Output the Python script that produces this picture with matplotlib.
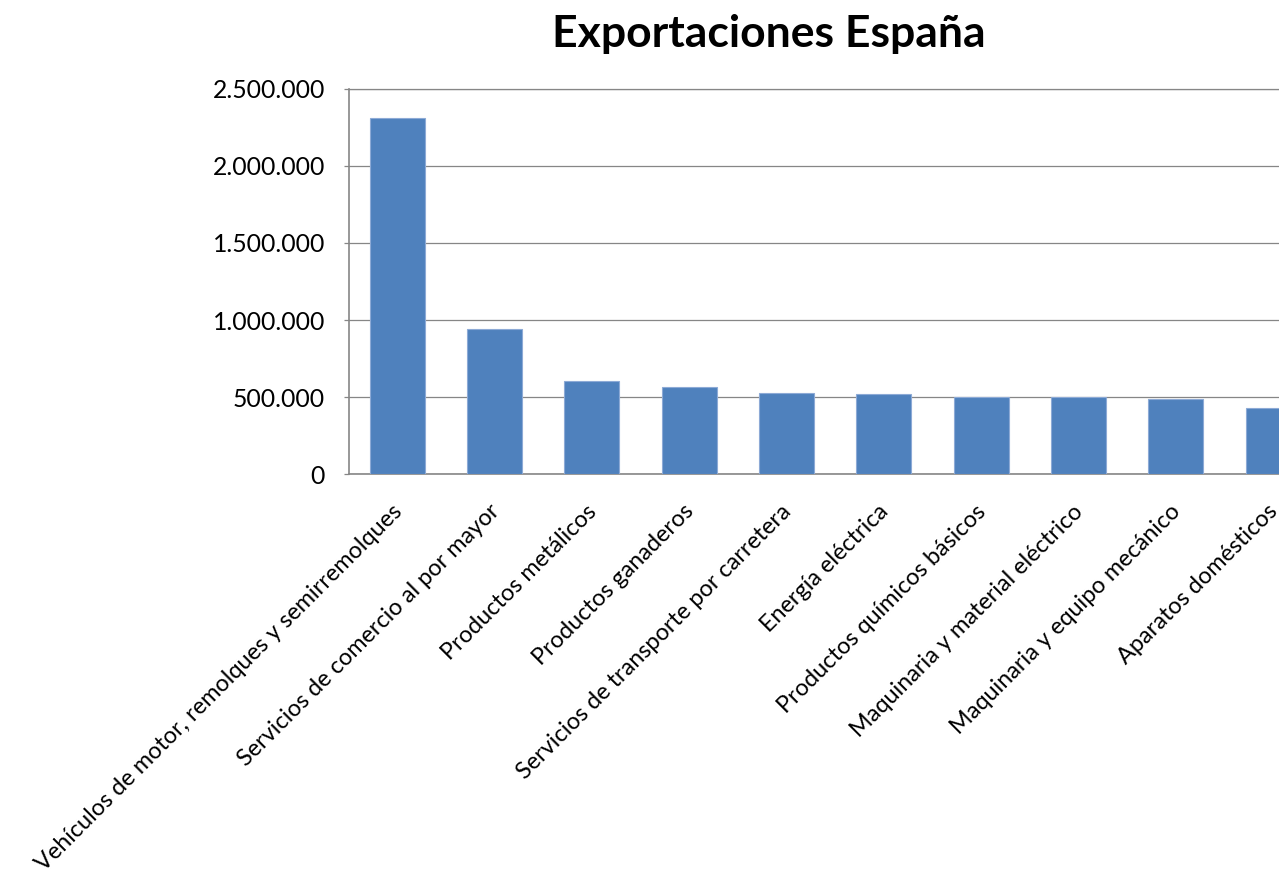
import matplotlib
matplotlib.use("Agg")
import matplotlib.pyplot as plt
from matplotlib.ticker import FuncFormatter, MultipleLocator
from matplotlib.transforms import ScaledTranslation

categories = [
    "Vehículos de motor, remolques y semirremolques",
    "Servicios de comercio al por mayor",
    "Productos metálicos",
    "Productos ganaderos",
    "Servicios de transporte por carretera",
    "Energía eléctrica",
    "Productos químicos básicos",
    "Maquinaria y material eléctrico",
    "Maquinaria y equipo mecánico",
    "Aparatos domésticos",
]
values = [2309000, 944000, 607000, 566000, 525000, 518000, 502000, 500000, 487000, 432000]
title = "Exportaciones España"

plt.rcParams['font.family'] = ['Lato', 'DejaVu Sans']

fig = plt.figure(figsize=(12.79, 8.73), dpi=100)
ax = fig.add_axes([348.7/1279, (873-474.3)/873, 973/1279, 385.6/873])

x = list(range(len(categories)))
ax.bar(x, values, width=0.565, color='#4F81BD', edgecolor='#8DAAD6', linewidth=0.8, zorder=3)

ax.set_xlim(-0.5, len(categories)-0.5)
ax.set_ylim(0, 2500000)
ax.yaxis.set_major_locator(MultipleLocator(500000))
ax.yaxis.set_major_formatter(FuncFormatter(lambda v, p: f"{int(v):,}".replace(",", ".")))
ax.grid(axis='y', color='#868686', linewidth=0.9, zorder=0)
ax.set_axisbelow(True)

for s in ['left', 'bottom']:
    ax.spines[s].set_color('#868686')
    ax.spines[s].set_linewidth(1.2)
ax.spines['top'].set_color('#868686')
ax.spines['top'].set_linewidth(0.9)
ax.spines['right'].set_visible(False)

ax.tick_params(axis='y', length=3.5, width=0.9, color='#868686', pad=13.5, labelsize=17.8, labelcolor='black')
ax.tick_params(axis='x', length=0, pad=19, labelsize=16.9, labelcolor='black')
ax.set_xticks(x)
ax.set_xticklabels(categories, rotation=45, ha='right', va='top', rotation_mode='anchor')
shift = ScaledTranslation(-6/100, 0, fig.dpi_scale_trans)
for lab in ax.get_xticklabels():
    lab.set_transform(lab.get_transform() + shift)

fig.text(0.601, 0.961, title, ha='center', va='center', fontsize=32, fontweight='bold')

fig.savefig('out.png', dpi=100)
